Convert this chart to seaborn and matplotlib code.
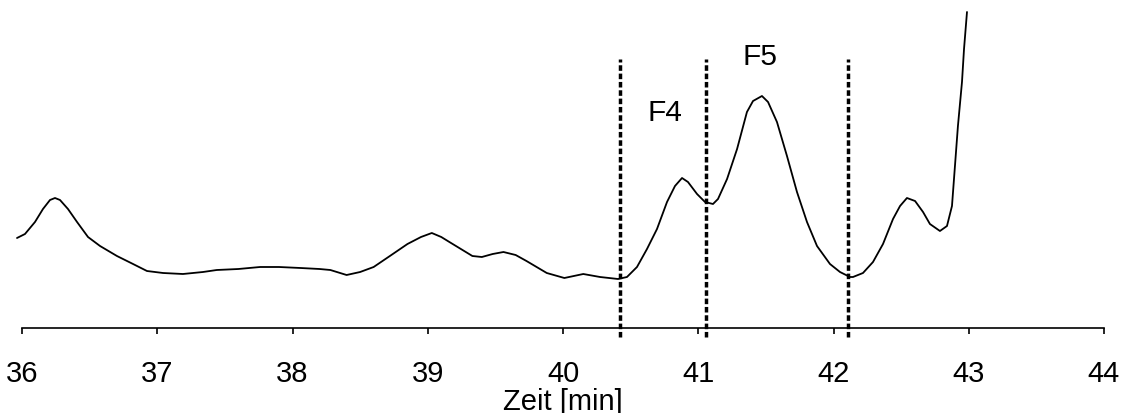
import matplotlib
matplotlib.use("Agg")
import matplotlib.pyplot as plt
import seaborn as sns
import pandas as pd

# retention time [min]
zeit = [35.963, 36.022, 36.096, 36.155, 36.207, 36.244, 36.281, 36.340, 36.407, 36.488,
        36.577, 36.702, 36.821, 36.924, 37.043, 37.190, 37.338, 37.44, 37.60, 37.76,
        37.90, 38.06, 38.20, 38.28, 38.40, 38.50, 38.60, 38.72, 38.85, 38.95,
        39.03, 39.10, 39.16, 39.33, 39.40, 39.48, 39.56, 39.65, 39.73, 39.88,
        40.01, 40.15, 40.274, 40.407, 40.473, 40.547, 40.621, 40.695, 40.769, 40.828,
        40.880, 40.924, 40.991, 41.050, 41.109, 41.146, 41.213, 41.287, 41.360, 41.405,
        41.471, 41.516, 41.582, 41.656, 41.730, 41.804, 41.878, 41.974, 42.048, 42.122,
        42.144, 42.218, 42.292, 42.366, 42.440, 42.492, 42.543, 42.603, 42.662, 42.713,
        42.787, 42.839, 42.876, 42.898, 42.920, 42.950, 42.965, 42.987]
# detector signal (arbitrary units)
signal = [90, 94, 106, 119, 128, 130, 128, 119, 106, 91,
          82, 72, 64, 57, 55, 54, 56, 58, 59, 61,
          61, 60, 59, 58, 53, 56, 61, 72, 84, 91,
          95, 91, 86, 72, 71, 74, 76, 73, 67, 55,
          50, 54, 51, 49, 51, 61, 79, 99, 126, 142,
          150, 146, 134, 126, 124, 129, 149, 179, 216, 227,
          232, 226, 206, 172, 136, 106, 82, 64, 56, 51,
          51, 55, 66, 84, 109, 122, 130, 127, 116, 104,
          97, 102, 122, 162, 202, 246, 279, 316]

fractions_x = [40.42, 41.06, 42.11]
labels = ["F4", "F5"]
label_x = [40.75, 41.46]
label_y = [216, 272]
xticks = [36, 37, 38, 39, 40, 41, 42, 43, 44]

sns.set_style("white")
plt.rcParams['font.family'] = ['Liberation Sans', 'DejaVu Sans']
plt.rcParams['text.color'] = 'black'
plt.rcParams['xtick.color'] = 'black'
plt.rcParams['axes.labelcolor'] = 'black'

fig = plt.figure(figsize=(11.26, 4.14), dpi=100)
ax = fig.add_axes([22/1126, 85/414, 1082/1126, 329/414])

df = pd.DataFrame({"Zeit": zeit, "Signal": signal})
sns.lineplot(data=df, x="Zeit", y="Signal", ax=ax, color="black", linewidth=1.3,
             estimator=None, sort=False)
for ln in ax.get_lines():
    ln.set_clip_on(False)

ax.vlines(fractions_x, -9, 269, colors="black", linewidth=2.5,
          linestyles=(0, (1.6, 0.8)), clip_on=False)

for t, lx, ly in zip(labels, label_x, label_y):
    ax.text(lx, ly, t, ha="center", va="center", fontsize=21.5, color="black")

ax.set_xlim(36, 44)
ax.set_ylim(0, 329)
ax.set_xticks(xticks)
ax.set_xticklabels([str(v) for v in xticks], fontsize=21)
ax.set_yticks([])
ax.set_ylabel("")
ax.set_xlabel("Zeit [min]", fontsize=21, labelpad=0, color="black")
for s in ["top", "left", "right"]:
    ax.spines[s].set_visible(False)
ax.spines["bottom"].set_linewidth(1.2)
ax.spines["bottom"].set_color("black")
ax.tick_params(axis="x", direction="out", length=4, width=1.2, colors="black", pad=18,
               bottom=True)
ax.patch.set_alpha(0)

fig.savefig("out.png", dpi=100)
